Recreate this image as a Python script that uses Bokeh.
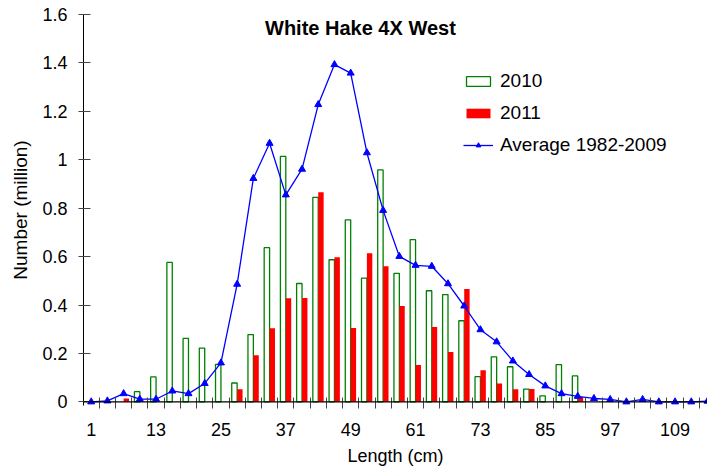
from bokeh.plotting import figure
from bokeh.models import (ColumnDataSource, Range1d, FixedTicker, CustomJSTickFormatter,
                          Label, Legend, LegendItem, CDSView, BooleanFilter, Span)
from bokeh.transform import dodge
from bokeh.embed import file_html
from bokeh.resources import INLINE

# ---- data ----
lengths = [1, 4, 7, 10, 13, 16, 19, 22, 25, 28, 31, 34, 37, 40, 43, 46, 49, 52, 55, 58,
           61, 64, 67, 70, 73, 76, 79, 82, 85, 88, 91, 94, 97, 100, 103, 106, 109, 112, 115]

avg_1982_2009 = [0.0, 0.004, 0.034, 0.011, 0.011, 0.045, 0.034, 0.076, 0.161, 0.486,
                 0.923, 1.068, 0.855, 0.961, 1.228, 1.393, 1.358, 1.029, 0.791, 0.601,
                 0.564, 0.560, 0.488, 0.396, 0.298, 0.248, 0.169, 0.113, 0.066, 0.034,
                 0.023, 0.014, 0.010, 0.0, 0.010, 0.0, 0.0, 0.0, 0.003]

n_2010 = [0, 0, 0, 0.042, 0.103, 0.576, 0.262, 0.222, 0.155, 0.078,
          0.278, 0.637, 1.014, 0.489, 0.845, 0.587, 0.752, 0.511, 0.958, 0.531,
          0.670, 0.459, 0.443, 0.335, 0.104, 0.186, 0.145, 0.053, 0.025, 0.154,
          0.107, 0, 0, 0, 0, 0, 0, 0, 0]

n_2011 = [0, 0, 0.014, 0, 0, 0, 0, 0, 0, 0.052,
          0.193, 0.304, 0.428, 0.429, 0.866, 0.597, 0.305, 0.614, 0.560, 0.396,
          0.152, 0.309, 0.206, 0.466, 0.131, 0.076, 0.052, 0.053, 0, 0,
          0.020, 0, 0, 0, 0, 0, 0, 0, 0]

x_tick_labels = [1, 13, 25, 37, 49, 61, 73, 85, 97, 109]
y_ticks = [0, 0.2, 0.4, 0.6, 0.8, 1.0, 1.2, 1.4, 1.6]

FONT = "Liberation Sans"

src = ColumnDataSource(dict(length=lengths, avg=avg_1982_2009, y2010=n_2010, y2011=n_2011))

p = figure(width=707, height=469, output_backend="svg", toolbar_location=None,
           x_range=Range1d(-0.42, 115.0), y_range=Range1d(-0.015, 1.6),
           min_border_left=83, min_border_right=0, min_border_top=14, min_border_bottom=64)
p.outline_line_color = None
p.grid.visible = False
p.background_fill_color = "white"
p.border_fill_color = "white"

view10 = CDSView(filter=BooleanFilter([v > 0 for v in n_2010]))
view11 = CDSView(filter=BooleanFilter([v > 0 for v in n_2011]))

r10 = p.vbar(x=dodge('length', -0.5, range=p.x_range), top='y2010', bottom=0, width=1.0,
             source=src, view=view10, fill_color="white", line_color="#008000", line_width=1.3)
r11 = p.vbar(x=dodge('length', 0.5, range=p.x_range), top='y2011', bottom=0, width=1.0,
             source=src, view=view11, fill_color="#FF0000", line_color=None)

# the category axis line sits at y = 0
p.add_layout(Span(location=0, dimension="width", line_color="black", line_width=1.2))

rl = p.line('length', 'avg', source=src, line_color="#0000FF", line_width=1.3)
rm = p.scatter('length', 'avg', source=src, marker="triangle", size=7,
               fill_color="#0000FF", line_color="#0000FF")

# x axis
xa = p.xaxis[0]
xa.ticker = FixedTicker(ticks=x_tick_labels, minor_ticks=[l + 1.5 for l in lengths])
xa.axis_line_color = None
xa.major_tick_in = 0
xa.major_tick_out = 0
xa.minor_tick_in = 8
xa.minor_tick_out = 3
xa.minor_tick_line_color = "#444444"
xa.major_label_standoff = 14
xa.major_label_text_font = FONT
xa.major_label_text_font_size = "18px"
xa.major_label_text_color = "black"
xa.axis_label = "Length (cm)"
xa.axis_label_text_font = FONT
xa.axis_label_text_font_size = "18px"
xa.axis_label_text_font_style = "normal"
xa.axis_label_text_color = "black"
xa.axis_label_standoff = 7

# y axis
ya = p.yaxis[0]
ya.ticker = FixedTicker(ticks=y_ticks)
ya.formatter = CustomJSTickFormatter(code="return (Math.round(tick*10)/10).toString();")
ya.major_tick_in = 7
ya.major_tick_out = 5
ya.minor_tick_in = 0
ya.minor_tick_out = 0
ya.axis_line_color = "black"
ya.major_tick_line_color = "#444444"
ya.major_label_standoff = 11
ya.major_label_text_font = FONT
ya.major_label_text_font_size = "18px"
ya.major_label_text_color = "black"
ya.axis_label = "Number (million)"
ya.axis_label_text_font = FONT
ya.axis_label_text_font_size = "19px"
ya.axis_label_text_font_style = "normal"
ya.axis_label_text_color = "black"
ya.axis_label_standoff = 8

# title inside plot area
p.add_layout(Label(x=50.8, y=1.545, text="White Hake 4X West", text_font=FONT,
                   text_font_size="20px", text_font_style="bold", text_align="center",
                   text_baseline="middle", text_color="black"))

legend = Legend(items=[LegendItem(label="2010", renderers=[r10]),
                       LegendItem(label="2011", renderers=[r11]),
                       LegendItem(label="Average 1982-2009", renderers=[rl, rm])],
                location=(380, 249), glyph_width=30, glyph_height=12, label_standoff=7,
                label_text_font=FONT, label_text_font_size="19px", label_text_color="black",
                label_height=12, spacing=10, padding=0, margin=0,
                border_line_color=None, background_fill_alpha=0)
p.add_layout(legend)

open("out.html", "w").write(file_html(p, INLINE))
